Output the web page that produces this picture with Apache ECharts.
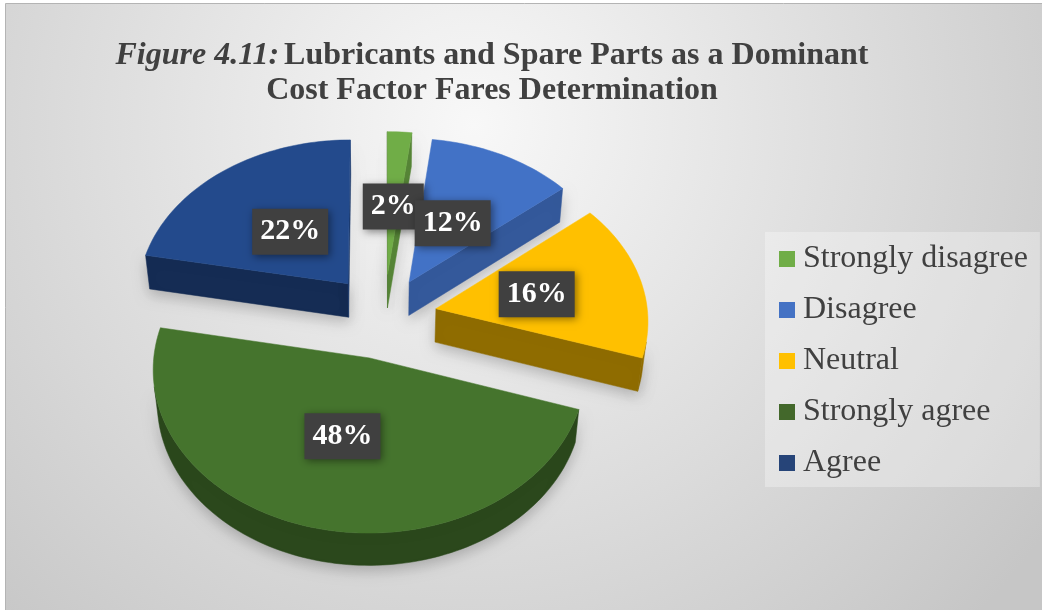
<!DOCTYPE html>
<html>
<head>
<meta charset="utf-8">
<script src="https://cdn.jsdelivr.net/npm/echarts@6/dist/echarts.min.js"></script>
<style>
html, body { margin: 0; padding: 0; background: #ffffff; }
#chart { width: 1042px; height: 610px; }
</style>
</head>
<body>
<div id="chart"></div>
<script>
// Survey answers and their share of respondents (%)
const categories = ['Strongly disagree', 'Disagree', 'Neutral', 'Strongly agree', 'Agree'];
const shares = [2, 12, 16, 48, 22];

// Legend swatch colours and the lit top-face colours, in category order
const swatchColors = ['#70ad47', '#4472c4', '#ffc000', '#43682b', '#264478'];
const faceColors = ['#70ad47', '#4272c6', '#ffc000', '#45742d', '#234a8c'];

// 3D pie layout: projection, thickness, explosion and label placement
const VIEW = { cx: 384, cy: 316, scale: 212, tilt: 48 * Math.PI / 180, dist: 10, thick: 0.24 };
const explode = [0.27, 0.25, 0.25, 0.27, 0.27];
const labelRadius = [0.46, 0.45, 0.49, 0.48, 0.45];
const FONT = '"Liberation Serif", "Times New Roman", serif';

const total = shares.reduce((a, b) => a + b, 0);
const sliceAngles = [];
(function () {
  let acc = 0;
  shares.forEach(v => {
    const a0 = acc / total * Math.PI * 2;
    acc += v;
    sliceAngles.push([a0, acc / total * Math.PI * 2]);
  });
})();

// world: X to the right, Z toward the viewer, H up; angles clockwise from the far side
function project(X, Z, H) {
  const s = Math.sin(VIEW.tilt), c = Math.cos(VIEW.tilt);
  const depth = VIEW.dist - (Z * c + H * s);
  const k = VIEW.scale * VIEW.dist / depth;
  return [VIEW.cx + X * k, VIEW.cy + (Z * s - H * c) * k];
}
const camera = [0, VIEW.dist * Math.cos(VIEW.tilt)]; // X, Z of the eye
function facesViewer(nx, nz, px, pz) {
  return nx * (camera[0] - px) + nz * (camera[1] - pz) > 0;
}
function shade(hex, f) {
  const n = parseInt(hex.slice(1), 16);
  const r = Math.round(((n >> 16) & 255) * f), g = Math.round(((n >> 8) & 255) * f), b = Math.round((n & 255) * f);
  return 'rgb(' + r + ',' + g + ',' + b + ')';
}
function sideLight(normalAngle) {
  return 0.5 + 0.3 * Math.max(0, Math.cos(normalAngle - 120 * Math.PI / 180));
}
function sliceOrigin(i) {
  const [a0, a1] = sliceAngles[i];
  const m = (a0 + a1) / 2;
  return [explode[i] * Math.sin(m), -explode[i] * Math.cos(m), m];
}

function buildSlice(i) {
  const [a0, a1] = sliceAngles[i];
  const [ox, oz] = sliceOrigin(i);
  const color = faceColors[i];
  const h = VIEW.thick;
  const n = Math.max(2, Math.ceil((a1 - a0) / (Math.PI / 120)));
  const rim = [];
  for (let k = 0; k <= n; k++) {
    const t = a0 + (a1 - a0) * k / n;
    rim.push({ t: t, X: ox + Math.sin(t), Z: oz - Math.cos(t) });
  }
  const children = [];
  const shadow = { shadowBlur: 14, shadowColor: 'rgba(0,0,0,0.22)', shadowOffsetY: 5 };

  // outer wall, front-facing runs only
  let run = [];
  const flush = () => {
    if (run.length > 1) {
      const top = run.map(p => project(p.X, p.Z, 0));
      const bot = run.map(p => project(p.X, p.Z, -h)).reverse();
      children.push({
        type: 'polygon', shape: { points: top.concat(bot) },
        style: Object.assign({ fill: shade(color, 0.62), stroke: shade(color, 0.62), lineWidth: 0.5 }, shadow)
      });
    }
    run = [];
  };
  for (let k = 0; k < rim.length; k++) {
    const p = rim[k];
    if (facesViewer(Math.sin(p.t), -Math.cos(p.t), p.X, p.Z)) run.push(p); else flush();
  }
  flush();

  // the two cut faces
  [[a0, a0 - Math.PI / 2, rim[0]], [a1, a1 + Math.PI / 2, rim[rim.length - 1]]].forEach(([a, na, p]) => {
    const nx = Math.sin(na), nz = -Math.cos(na);
    if (!facesViewer(nx, nz, (ox + p.X) / 2, (oz + p.Z) / 2)) return;
    const pts = [project(ox, oz, 0), project(p.X, p.Z, 0), project(p.X, p.Z, -h), project(ox, oz, -h)];
    const f = sideLight(na);
    children.push({
      type: 'polygon', shape: { points: pts },
      style: Object.assign({ fill: shade(color, f), stroke: shade(color, f), lineWidth: 0.5 }, shadow)
    });
  });

  // top face
  const topPts = [project(ox, oz, 0)].concat(rim.map(p => project(p.X, p.Z, 0)));
  children.push({
    type: 'polygon', shape: { points: topPts },
    style: { fill: color, stroke: color, lineWidth: 0.5 }
  });
  return { type: 'group', children: children };
}

function labelPoint(i) {
  const [ox, oz, m] = sliceOrigin(i);
  const r = labelRadius[i];
  return project(ox + r * Math.sin(m), oz - r * Math.cos(m), 0);
}

// paint order: far slices first
const depthOrder = categories.map((c, i) => {
  const [ox, oz, m] = sliceOrigin(i);
  return { i: i, z: oz - 0.5 * Math.cos(m) };
}).sort((a, b) => a.z - b.z).map(d => d.i);

const sliceSeries = categories.map((name, i) => ({
  type: 'custom',
  name: name,
  coordinateSystem: 'none',
  z: 2 + depthOrder.indexOf(i),
  silent: true,
  itemStyle: { color: swatchColors[i] },
  data: [[shares[i]]],
  renderItem: function () { return buildSlice(i); }
}));

const labelSeries = {
  type: 'custom',
  name: 'labels',
  coordinateSystem: 'none',
  z: 20,
  silent: true,
  data: shares.map(v => [v]),
  renderItem: function (params, api) {
    const i = params.dataIndex;
    const [x, y] = labelPoint(i);
    return {
      type: 'text',
      style: {
        text: api.value(0) + '%',
        x: x, y: y,
        align: 'center', verticalAlign: 'middle',
        fill: '#ffffff',
        font: 'bold 30px ' + FONT,
        backgroundColor: '#404040',
        padding: [9, 8, 7, 8],
        shadowBlur: 8, shadowColor: 'rgba(0,0,0,0.45)', shadowOffsetX: 2, shadowOffsetY: 2
      }
    };
  }
};

const chart = echarts.init(document.getElementById('chart'), null, { renderer: 'canvas' });
chart.setOption({
  backgroundColor: '#ffffff',
  animation: false,
  title: {
    text: '{it|Figure 4.11:} {bd|Lubricants and Spare Parts as a Dominant}\n{bd|Cost Factor Fares Determination}',
    left: 487, top: 33, textAlign: 'center',
    textStyle: {
      rich: {
        it: { fontFamily: FONT, fontStyle: 'italic', fontWeight: 'bold', fontSize: 32, color: '#404040', lineHeight: 35 },
        bd: { fontFamily: FONT, fontWeight: 'bold', fontSize: 32, color: '#404040', lineHeight: 35 }
      }
    }
  },
  legend: {
    data: categories,
    orient: 'vertical',
    left: 765, top: 232,
    icon: 'rect', itemWidth: 16, itemHeight: 16, itemGap: 19,
    padding: [11, 12, 8, 14],
    backgroundColor: 'rgba(255,255,255,0.3)',
    textStyle: { fontFamily: FONT, fontSize: 32, color: '#404040', lineHeight: 32, padding: [0, 0, 0, 3] },
    selectedMode: false
  },
  graphic: [
    {
      type: 'rect', z: -10, silent: true,
      shape: { x: 5.5, y: 3.5, width: 1040, height: 610 },
      style: {
        fill: new echarts.graphic.RadialGradient(0.45, 0.2, 1.15, [
          { offset: 0, color: '#f8f8f8' },
          { offset: 1, color: '#c6c6c6' }
        ]),
        stroke: '#b4b4b4', lineWidth: 1
      }
    }
  ],
  series: sliceSeries.concat([labelSeries])
});
</script>
</body>
</html>
